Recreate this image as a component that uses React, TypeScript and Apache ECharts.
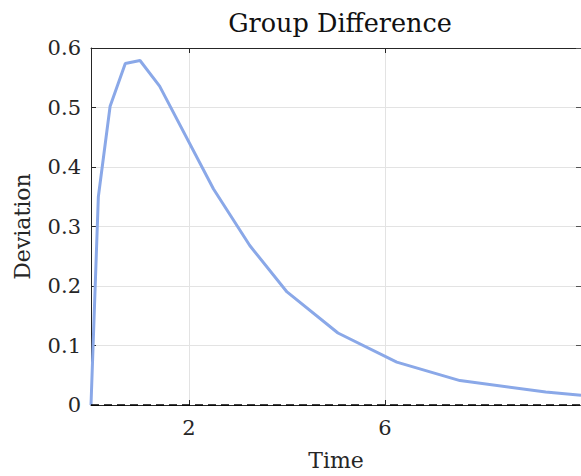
import React, { useEffect, useRef } from "react";
import * as echarts from "echarts";

const times = [0, 0.15, 0.39, 0.7, 1.0, 1.4, 2.5, 3.24, 4.0, 5.04, 6.24, 7.53, 9.28, 10];
const values = [0, 0.35, 0.502, 0.574, 0.579, 0.536, 0.363, 0.268, 0.19, 0.121, 0.072, 0.041, 0.022, 0.0165];
const xTicks = [2, 6];
const xTickMarks = [2, 6, 10];
const titleText = "Group Difference";
const xName = "Time";
const yName = "Deviation";

const FONT = "'DejaVu Serif', 'Liberation Serif', serif";

export default function App() {
  const ref = useRef<HTMLDivElement>(null);
  useEffect(() => {
    if (!ref.current) return;
    const chart = echarts.init(ref.current, null, { renderer: "svg" });
    const data = times.map((t, i) => [t, values[i]]);
    chart.setOption({
      animation: false,
      backgroundColor: "#ffffff",
      textStyle: { fontFamily: FONT },
      title: {
        text: titleText,
        left: 335,
        top: 5,
        textAlign: "center",
        textStyle: { fontFamily: FONT, fontSize: 25.5, fontWeight: "normal", color: "#111" },
      },
      grid: { left: 91, right: 0, top: 48, bottom: 71, containLabel: false },
      xAxis: [
        {
          type: "value",
          min: 0,
          max: 10,
          name: xName,
          nameLocation: "middle",
          nameGap: 44,
          nameTextStyle: { fontFamily: FONT, fontSize: 22, color: "#262626" },
          axisLine: { show: true, onZero: false, lineStyle: { color: "#262626", width: 1 } },
          axisTick: { show: true, inside: true, length: 5, customValues: xTickMarks, lineStyle: { color: "#262626" } },
          axisLabel: { customValues: xTicks, fontFamily: FONT, fontSize: 21, color: "#262626", margin: 12 },
          splitLine: { show: true, lineStyle: { color: "#e3e3e3", width: 1 } },
        },
        {
          type: "value",
          min: 0,
          max: 10,
          position: "top",
          axisLine: { show: true, onZero: false, lineStyle: { color: "#262626", width: 1 } },
          axisTick: { show: true, inside: true, length: 5, customValues: xTickMarks, lineStyle: { color: "#262626" } },
          axisLabel: { show: false },
          splitLine: { show: false },
        },
      ],
      yAxis: [
        {
          type: "value",
          min: 0,
          max: 0.6,
          interval: 0.1,
          name: yName,
          nameLocation: "middle",
          nameGap: 58,
          nameRotate: 90,
          nameTextStyle: { fontFamily: FONT, fontSize: 22, color: "#262626" },
          axisLine: { show: true, onZero: false, lineStyle: { color: "#262626", width: 1 } },
          axisTick: { show: true, inside: true, length: 5, lineStyle: { color: "#262626" } },
          axisLabel: {
            fontFamily: FONT,
            fontSize: 21,
            color: "#262626",
            margin: 10,
            formatter: (v: number) => (v === 0 ? "0" : v.toFixed(1)),
          },
          splitLine: { show: true, showMinLine: false, showMaxLine: false, lineStyle: { color: "#e3e3e3", width: 1 } },
        },
        {
          type: "value",
          min: 0,
          max: 0.6,
          interval: 0.1,
          position: "right",
          axisLine: { show: true, onZero: false, lineStyle: { color: "#dddddd", width: 1 } },
          axisTick: { show: true, inside: true, length: 5, lineStyle: { color: "#555" } },
          axisLabel: { show: false },
          splitLine: { show: false },
        },
      ],
      series: [
        {
          type: "line",
          data,
          showSymbol: false,
          lineStyle: { color: "#8aa8e8", width: 3 },
          itemStyle: { color: "#8aa8e8" },
          clip: true,
          markLine: {
            silent: true,
            symbol: "none",
            label: { show: false },
            lineStyle: { color: "#000000", type: [8, 5], width: 1.5 },
            data: [{ yAxis: 0 }],
          },
        },
      ],
    });
    return () => chart.dispose();
  }, []);
  return (
    <div
      ref={ref}
      style={{ position: "fixed", left: 0, top: 0, width: 581, height: 476 }}
    />
  );
}
